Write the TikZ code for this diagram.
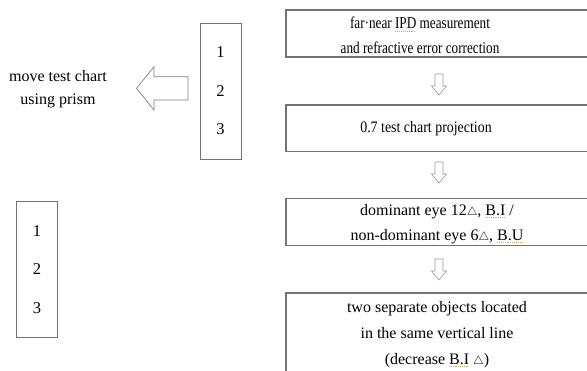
\documentclass[tikz,border=0pt]{standalone}
\usepackage{fontspec}
\setmainfont{Liberation Serif}
\newfontfamily\condA{Liberation Serif}[FakeStretch=0.8]
\newfontfamily\condB{Liberation Serif}[FakeStretch=0.87]
\definecolor{boxc}{HTML}{737373}
\definecolor{arrc}{HTML}{9A9A9A}
\definecolor{sqc}{HTML}{C8A86A}
\newcommand\spk[1]{\setbox0\hbox{#1}\rlap{\hbox to \wd0{\color{sqc}\xleaders\hbox{\rule[-2.6pt]{1pt}{0.7pt}\kern0.8pt}\hfil}}\box0\relax}
\newcommand\tri{{\fontsize{11.5}{11.5}\selectfont$\triangle$}}
\begin{document}
\begin{tikzpicture}[x=1pt,y=-1pt,
  box/.style={draw=boxc, line width=1.1pt, inner sep=0pt, minimum width=304pt},
  txtA/.style={align=center, inner sep=0pt, font=\condA\fontsize{16.5}{24.5}\selectfont},
  txtB/.style={align=center, inner sep=0pt, font=\condB\fontsize{16}{24}\selectfont},
  txt/.style={align=center, inner sep=0pt, font=\fontsize{16}{25.5}\selectfont},
  numbox/.style={draw=boxc, line width=1pt, minimum width=41pt, minimum height=136pt,
    align=center, inner sep=0pt, font=\fontsize{16.5}{38.5}\selectfont},
  barrow/.style={draw=arrc, line width=0.6pt, fill=white},
  dnarrow/.pic={\draw[barrow] (-4,0) -- (4,0) -- (4,12) -- (7.5,12) -- (0,21) -- (-7.5,12) -- (-4,12) -- cycle;}]
\useasboundingbox (0,0) rectangle (587,370);
\fill[white] (0,0) rectangle (587,370);

% right column boxes
\node[box, minimum height=47pt]   (b1) at (438,33.5)  {};
\node[box, minimum height=46.7pt] (b2) at (438,128.3) {};
\node[box, minimum height=46.7pt] (b3) at (438,221.7) {};
\node[box, minimum height=90pt]   (b4) at (438,338)   {};

\node[txtA] (t1) at (420,35.5) {\condA\fontsize{16.5}{24.5}\selectfont far·near \spk{IPD} measurement\\\condA\fontsize{16.5}{24.5}\selectfont and refractive error correction};
\node[txtB] (t2) at (426,128.5) {0.7 test chart projection};
\node[txt]  (t3) at (437,224) {dominant eye 12\tri, \spk{B.I} /\\non-dominant eye 6\tri, \spk{B.U}};
\node[txt, font=\fontsize{16}{26}\selectfont]  (t4) at (437,334.5) {two separate objects located\\in the same vertical line\\(decrease \spk{B.I} \tri)};

% down arrows
\pic at (439,74)  {dnarrow};
\pic at (439,162) {dnarrow};
\pic at (439,259) {dnarrow};

% left side
\node[numbox] (n1) at (220.5,91) {1\\2\\3};
\node[numbox] (n2) at (37,269.5)   {1\\2\\3};

\node[align=center, inner sep=0pt, font=\fontsize{16}{23.3}\selectfont] (mt) at (58,89.5) {move test chart\\using prism};

\draw[draw=boxc!90, line width=0.7pt, fill=white]
  (136.5,88.3) -- (154,66.7) -- (154,76.7) -- (188,76.7) -- (188,100) -- (154,100) -- (154,110) -- cycle;
\end{tikzpicture}
\end{document}
